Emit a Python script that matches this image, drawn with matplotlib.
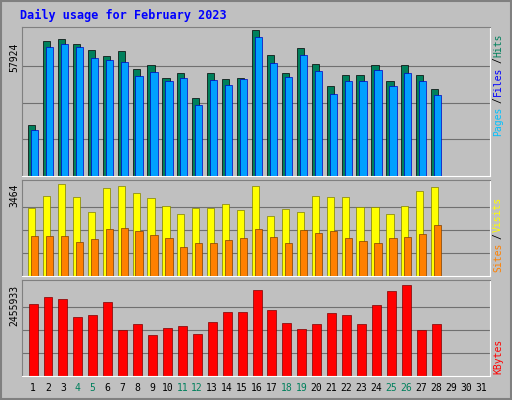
import matplotlib
matplotlib.use("Agg")
import matplotlib.pyplot as plt
import numpy as np

days = list(range(1, 32))
hits = [20250,53460,54270,52245,49815,47385,49410,42525,44145,38880,40905,30780,40905,38475,38880,57924,47790,40905,50625,44550,35640,40095,40095,44145,37665,44145,40095,34425]
files = [18225,51030,52245,51030,46980,46170,45360,39690,41310,37665,38880,28350,38070,36045,38475,55080,44955,39285,47790,41715,32400,37665,37665,42120,35640,40905,37665,31995]
visits = [2541,3003,3464,2965,2387,3311,3388,3119,2926,2618,2310,2541,2541,2695,2464,3388,2233,2503,2387,3003,2965,2965,2580,2580,2310,2618,3196,3350]
sites = [1502,1502,1502,1271,1386,1771,1810,1694,1540,1425,1078,1232,1232,1348,1425,1771,1463,1232,1733,1617,1694,1425,1309,1232,1425,1463,1579,1925]
kbytes = [1926000,2121000,2065000,1591000,1647000,1981000,1228000,1395000,1088000,1284000,1340000,1116000,1451000,1730000,1730000,2316000,1786000,1423000,1256000,1395000,1702000,1647000,1395000,1898000,2288000,2455933,1228000,1395000]
weekend = [4,5,11,12,18,19,25,26]

BG = "#C0C0C0"
fig = plt.figure(figsize=(5.12, 4.0), dpi=100, facecolor=BG)
W, H = 512, 400
mono = "DejaVu Sans Mono"

def ax_at(x0, y0, x1, y1):
    a = fig.add_axes([x0/W, 1-y1/H, (x1-x0)/W, (y1-y0)/H])
    a.set_facecolor(BG)
    a.set_xlim(0.26, 31.6)
    a.set_xticks([]); a.set_yticks([])
    for s in a.spines.values():
        s.set_color("#808080")
    a.spines["bottom"].set_color("white"); a.spines["right"].set_color("white")
    return a

fig.text(20/W, 1-15/H, "Daily usage for February 2023", color="#0000FF",
         fontsize=8.5, fontweight="bold", family=mono, va="center")

x = np.arange(1, len(hits)+1)
bw = 0.48

def grid(a, m):
    for f in (0.25, 0.5, 0.75):
        a.axhline(m*f, color="#707070", lw=0.8, zorder=0)

a1 = ax_at(22, 27, 490, 176)
m1 = max(hits); a1.set_ylim(0, m1*1.02); grid(a1, m1)
a1.bar(x-0.1, hits, bw, color="#00805C", edgecolor="black", lw=0.5, zorder=2)
a1.bar(x+0.1, files, bw, color="#00A0FF", edgecolor="#0000C0", lw=0.5, zorder=3)
fig.text(14/W, 1-57/H, "57924", rotation=90, fontsize=7, family=mono, va="center", ha="center")

a2 = ax_at(22, 180, 490, 276)
m2 = max(visits); a2.set_ylim(0, m2*1.04); grid(a2, m2)
a2.bar(x-0.1, visits, bw, color="#FFFF00", edgecolor="#808000", lw=0.5, zorder=2)
a2.bar(x+0.1, sites, bw, color="#FF8000", edgecolor="#804000", lw=0.5, zorder=3)
fig.text(14/W, 1-195/H, "3464", rotation=90, fontsize=7, family=mono, va="center", ha="center")

a3 = ax_at(22, 280, 490, 376)
m3 = max(kbytes); a3.set_ylim(0, m3*1.05); grid(a3, m3)
a3.bar(x, kbytes, 0.6, color="#FF0000", edgecolor="#800000", lw=0.5, zorder=2)
fig.text(14/W, 1-305/H, "2455933", rotation=90, fontsize=7, family=mono, va="center", ha="center")

def vstack(items, ybottom, step=5.3):
    y = ybottom
    for t, c in items:
        fig.text(498/W, 1-y/H, t, rotation=90, fontsize=7, family=mono, va="bottom", ha="center", color=c)
        y -= step*len(t)
vstack([("Pages", "#00C0FF"), ("/", "black"), ("Files", "#0000FF"), ("/", "black"), ("Hits", "#00805C")], 136, 6.6)
vstack([("Sites", "#FF8000"), ("/", "black"), ("Visits", "#FFFF00")], 272, 6.6)
vstack([("KBytes", "#FF0000")], 374, 6.6)

for d in days:
    xp = 33 + (d-1)*14.93
    fig.text(xp/W, 1-388/H, str(d), fontsize=7, family=mono, ha="center", va="center",
             color="#00805C" if d in weekend else "black")

fig.add_artist(plt.Rectangle((0.002, 0.002), 0.996, 0.996, transform=fig.transFigure,
                             fill=False, edgecolor="#808080", lw=1.5))
fig.savefig("out.png", dpi=100, facecolor=BG)
